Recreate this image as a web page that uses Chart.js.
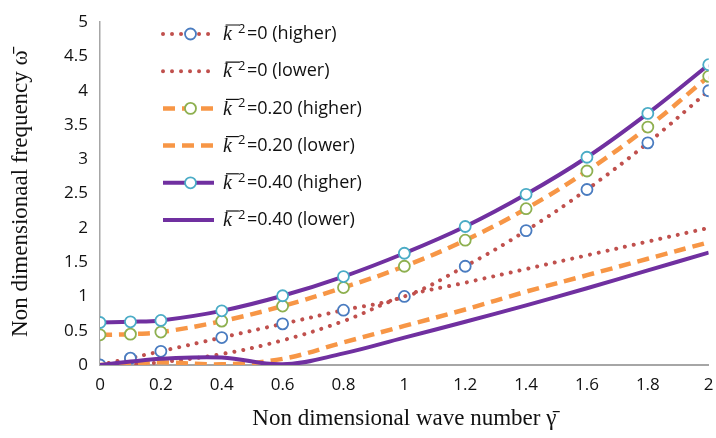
<!DOCTYPE html>
<html>
<head>
<meta charset="utf-8">
<script src="https://cdn.jsdelivr.net/npm/chart.js@4.4.1/dist/chart.umd.min.js"></script>
<style>
  html, body { margin: 0; padding: 0; background: #fff; }
</style>
</head>
<body>
<canvas id="chart" width="716" height="438"></canvas>
<script>
// wave number (x) values
const gamma = [0, 0.1, 0.2, 0.4, 0.6, 0.8, 1, 1.2, 1.4, 1.6, 1.8, 2];

// non dimensional frequency
const k0High  = [0, 0.1, 0.2, 0.4, 0.6, 0.8, 1.0, 1.44, 1.96, 2.56, 3.24, 4.0];
const k0Low   = [0, 0.01, 0.04, 0.16, 0.36, 0.64, 1.0, 1.2, 1.4, 1.6, 1.8, 2.0];
const k20High = [0.44, 0.45, 0.48, 0.64, 0.86, 1.13, 1.44, 1.82, 2.28, 2.83, 3.47, 4.21];
const k20Low  = [0, 0.02, 0.04, 0.01, 0.09, 0.33, 0.57, 0.81, 1.07, 1.31, 1.55, 1.79];
const k40High = [0.62, 0.63, 0.65, 0.79, 1.01, 1.29, 1.63, 2.02, 2.49, 3.03, 3.67, 4.38];
const k40Low  = [0, 0.05, 0.09, 0.11, 0.01, 0.17, 0.40, 0.63, 0.87, 1.12, 1.38, 1.64];

const kValues = ['0', '0', '0.20', '0.20', '0.40', '0.40'];
const branches = ['higher', 'lower', 'higher', 'lower', 'higher', 'lower'];

const xTicks = [0, 0.2, 0.4, 0.6, 0.8, 1, 1.2, 1.4, 1.6, 1.8, 2];

const RED = '#C0504D', ORANGE = '#F79646', PURPLE = '#7030A0';
const tickFont = { family: '"Open Sans", sans-serif', size: 17 };
const titleFont = { family: '"Liberation Serif", serif', size: 23 };

const pts = (ys) => gamma.map((g, i) => ({ x: g, y: ys[i] }));
const plain = (v) => String(Math.round(v * 10) / 10);

function series(idx, values, color, dash, cap, width, marker) {
  return {
    label: 'k\u0305\u00b2=' + kValues[idx] + ' (' + branches[idx] + ')',
    data: pts(values),
    borderColor: color,
    borderWidth: width,
    borderDash: dash,
    borderCapStyle: cap,
    tension: 0.4,
    fill: false,
    order: 10 - idx,
    pointRadius: marker ? 5.5 : 0,
    pointHoverRadius: marker ? 5.5 : 0,
    pointBorderWidth: 1.8,
    pointBorderColor: marker || color,
    pointBackgroundColor: '#fff'
  };
}

const dotDash = [0.01, 9];
const longDash = [12, 7];

const datasets = [
  series(0, k0High, RED, dotDash, 'round', 4, '#4A7CC0'),
  series(1, k0Low, RED, dotDash, 'round', 4, null),
  series(2, k20High, ORANGE, longDash, 'butt', 4.5, '#8EB050'),
  series(3, k20Low, ORANGE, longDash, 'butt', 4.5, null),
  series(4, k40High, PURPLE, [], 'butt', 4, '#4BACC6'),
  series(5, k40Low, PURPLE, [], 'butt', 4, null)
];

// legend drawn inside the plot, top left
const insideLegend = {
  id: 'insideLegend',
  afterDraw(chart) {
    const ctx = chart.ctx;
    const x0 = 163, x1 = 214, tx = 223, y0 = 34, step = 37.2;
    chart.data.datasets.forEach((ds, i) => {
      const y = y0 + i * step;
      ctx.save();
      ctx.strokeStyle = ds.borderColor;
      ctx.lineWidth = ds.borderWidth;
      ctx.lineCap = ds.borderCapStyle;
      ctx.setLineDash(ds.borderDash);
      ctx.beginPath();
      ctx.moveTo(x0, y);
      ctx.lineTo(x1, y);
      ctx.stroke();
      ctx.setLineDash([]);
      if (ds.pointRadius > 0) {
        ctx.beginPath();
        ctx.arc((x0 + x1) / 2 + 2, y, ds.pointRadius, 0, Math.PI * 2);
        ctx.fillStyle = '#fff';
        ctx.fill();
        ctx.lineWidth = ds.pointBorderWidth;
        ctx.strokeStyle = ds.pointBorderColor;
        ctx.stroke();
      }
      // label: italic k with overbar, superscript 2, then the rest
      ctx.fillStyle = '#111';
      ctx.textBaseline = 'middle';
      ctx.font = 'italic 20px "Liberation Serif", serif';
      ctx.fillText('k', tx, y + 1);
      const kw = ctx.measureText('k').width;
      ctx.lineWidth = 1.2;
      ctx.strokeStyle = '#111';
      ctx.beginPath();
      ctx.moveTo(tx + 3, y - 9);
      ctx.lineTo(tx + kw + 7, y - 9);
      ctx.stroke();
      ctx.font = '13px "Open Sans", sans-serif';
      ctx.fillText('2', tx + kw + 6, y - 5);
      ctx.font = '18px "Open Sans", sans-serif';
      ctx.fillText('=' + kValues[i] + ' (' + branches[i] + ')', tx + kw + 15, y);
      ctx.restore();
    });
  }
};

new Chart(document.getElementById('chart'), {
  type: 'line',
  data: { datasets },
  plugins: [insideLegend],
  options: {
    responsive: false,
    animation: false,
    layout: { padding: { top: 21, right: 3, bottom: 0, left: 0 } },
    plugins: {
      legend: { display: false },
      tooltip: { enabled: false }
    },
    scales: {
      x: {
        type: 'linear',
        min: 0,
        max: 2,
        afterFit: (s) => { s.height = 73; s.paddingRight = 0; s.paddingLeft = 0; },
        afterBuildTicks: (s) => { s.ticks = xTicks.map(v => ({ value: v })); },
        grid: { display: false, drawTicks: false },
        border: { display: true, color: '#A6A6A6', width: 2 },
        ticks: { color: '#111', font: tickFont, padding: 10, maxRotation: 0, autoSkip: false, callback: plain },
        title: {
          display: true,
          text: 'Non dimensional wave number \u03b3\u0304',
          color: '#111',
          font: titleFont,
          padding: { top: 0, bottom: 5 }
        }
      },
      y: {
        min: 0,
        max: 5,
        afterFit: (s) => { s.width = 100; },
        grid: { display: false, drawTicks: false },
        border: { display: true, color: '#A6A6A6', width: 1.5 },
        ticks: { stepSize: 0.5, color: '#111', font: tickFont, padding: 12, callback: plain },
        title: {
          display: true,
          text: 'Non dimensionaal frequency \u03c9\u0304',
          color: '#111',
          font: titleFont,
          padding: { top: 7, bottom: 0 }
        }
      }
    }
  }
});
</script>
</body>
</html>
